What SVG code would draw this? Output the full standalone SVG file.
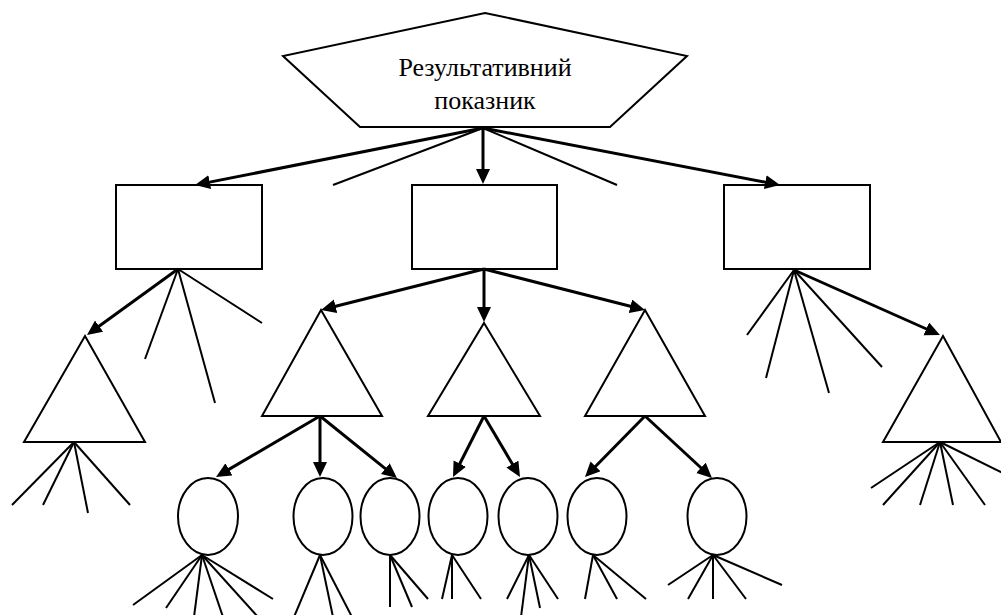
<svg xmlns="http://www.w3.org/2000/svg" width="1001" height="615" viewBox="0 0 1001 615">
<style>
.s{fill:#fff;stroke:#000;stroke-width:2}
.l{stroke:#000;stroke-width:2;fill:none}
.a{stroke:#000;stroke-width:3;fill:none;marker-end:url(#ah)}
.t{font-family:"Liberation Serif","Times New Roman",serif;font-size:26px;fill:#000;text-anchor:middle}
</style>
<defs>
<marker id="ah" markerUnits="userSpaceOnUse" markerWidth="16" markerHeight="15" refX="4" refY="7" orient="auto">
<path d="M0,0 L15,7 L0,14 z" fill="#000"/>
</marker>
</defs>
<rect width="1001" height="615" fill="#fff"/>
<g id="root">
<polygon class="s" points="485,13 687,56 610,127 360,127 283,56"/>
<text class="t" x="485" y="76">Результативний</text>
<text class="t" x="485" y="109">показник</text>
</g>
<g id="box1"><rect class="s" x="116" y="185" width="146" height="84"/></g>
<g id="box2"><rect class="s" x="412" y="185" width="145" height="84"/></g>
<g id="box3"><rect class="s" x="724" y="185" width="146" height="84"/></g>
<g id="triL"><polygon class="s" points="85,336 145,442 24,442"/></g>
<g id="triA"><polygon class="s" points="321,310 382,416 262,416"/></g>
<g id="triB"><polygon class="s" points="484,323 540,416 428,416"/></g>
<g id="triC"><polygon class="s" points="645,310 705,416 585,416"/></g>
<g id="triR"><polygon class="s" points="943,336 1001,442 883,442"/></g>
<g id="e1"><ellipse class="s" cx="208" cy="516.5" rx="30" ry="38.5"/></g>
<g id="e2"><ellipse class="s" cx="323" cy="516.5" rx="29.5" ry="38.5"/></g>
<g id="e3"><ellipse class="s" cx="390" cy="516.5" rx="29.5" ry="38.5"/></g>
<g id="e4"><ellipse class="s" cx="458" cy="516.5" rx="29.5" ry="38.5"/></g>
<g id="e5"><ellipse class="s" cx="528" cy="516.5" rx="29.5" ry="38.5"/></g>
<g id="e6"><ellipse class="s" cx="597" cy="516.5" rx="29.5" ry="38.5"/></g>
<g id="e7"><ellipse class="s" cx="717" cy="516.5" rx="29.5" ry="38.5"/></g>
<g id="connectors">
<line class="l" x1="483" y1="128" x2="333" y2="185"/>
<line class="l" x1="483" y1="128" x2="617" y2="185"/>
<line class="a" x1="483" y1="128" x2="205.8" y2="182.9"/>
<line class="a" x1="483" y1="128" x2="483" y2="173"/>
<line class="a" x1="483" y1="128" x2="769.2" y2="182.9"/>
<line class="a" x1="178" y1="269" x2="95.9" y2="328.5"/>
<line class="l" x1="178" y1="269" x2="145" y2="359"/>
<line class="l" x1="178" y1="269" x2="215" y2="403"/>
<line class="l" x1="178" y1="269" x2="262" y2="323"/>
<line class="a" x1="484" y1="269" x2="331.7" y2="307.3"/>
<line class="a" x1="484" y1="269" x2="484" y2="311"/>
<line class="a" x1="484" y1="269" x2="634.3" y2="307.3"/>
<line class="l" x1="794" y1="270" x2="747" y2="335"/>
<line class="l" x1="794" y1="270" x2="766" y2="378"/>
<line class="l" x1="794" y1="270" x2="829" y2="393"/>
<line class="l" x1="794" y1="270" x2="882" y2="367"/>
<line class="a" x1="794" y1="270" x2="929.9" y2="330.5"/>
<line class="l" x1="74" y1="442" x2="12" y2="505"/>
<line class="l" x1="74" y1="442" x2="43" y2="505"/>
<line class="l" x1="74" y1="442" x2="88" y2="513"/>
<line class="l" x1="74" y1="442" x2="130" y2="505"/>
<line class="l" x1="940" y1="442" x2="871" y2="488"/>
<line class="l" x1="940" y1="442" x2="883" y2="505"/>
<line class="l" x1="940" y1="442" x2="920" y2="505"/>
<line class="l" x1="940" y1="442" x2="953" y2="505"/>
<line class="l" x1="940" y1="442" x2="985" y2="505"/>
<line class="l" x1="940" y1="442" x2="1003" y2="473"/>
<line class="a" x1="320" y1="416" x2="225.5" y2="471.4"/>
<line class="a" x1="320" y1="416" x2="320" y2="466"/>
<line class="a" x1="320" y1="416" x2="388.4" y2="471.1"/>
<line class="a" x1="484" y1="416" x2="458" y2="467.2"/>
<line class="a" x1="484" y1="416" x2="514.4" y2="467.5"/>
<line class="a" x1="645" y1="416" x2="592.7" y2="469.2"/>
<line class="a" x1="645" y1="416" x2="703.9" y2="470.5"/>
<line class="l" x1="202" y1="555" x2="133" y2="605"/>
<line class="l" x1="202" y1="555" x2="166" y2="608"/>
<line class="l" x1="202" y1="555" x2="194" y2="617"/>
<line class="l" x1="202" y1="555" x2="223" y2="617"/>
<line class="l" x1="202" y1="555" x2="258" y2="617"/>
<line class="l" x1="202" y1="555" x2="273" y2="599"/>
<line class="l" x1="320" y1="555" x2="294" y2="617"/>
<line class="l" x1="320" y1="555" x2="333" y2="617"/>
<line class="l" x1="320" y1="555" x2="352" y2="617"/>
<line class="l" x1="390" y1="555" x2="390" y2="607"/>
<line class="l" x1="390" y1="555" x2="412" y2="607"/>
<line class="l" x1="390" y1="555" x2="428" y2="599"/>
<line class="l" x1="452" y1="555" x2="442" y2="599"/>
<line class="l" x1="452" y1="555" x2="452" y2="599"/>
<line class="l" x1="452" y1="555" x2="481" y2="599"/>
<line class="l" x1="529" y1="555" x2="507" y2="599"/>
<line class="l" x1="529" y1="555" x2="521" y2="617"/>
<line class="l" x1="529" y1="555" x2="540" y2="608"/>
<line class="l" x1="529" y1="555" x2="558" y2="599"/>
<line class="l" x1="593" y1="555" x2="585" y2="599"/>
<line class="l" x1="593" y1="555" x2="617" y2="599"/>
<line class="l" x1="593" y1="555" x2="646" y2="599"/>
<line class="l" x1="713" y1="555" x2="668" y2="585"/>
<line class="l" x1="713" y1="555" x2="688" y2="599"/>
<line class="l" x1="713" y1="555" x2="713" y2="599"/>
<line class="l" x1="713" y1="555" x2="746" y2="599"/>
<line class="l" x1="713" y1="555" x2="782" y2="585"/>
</g>
</svg>
